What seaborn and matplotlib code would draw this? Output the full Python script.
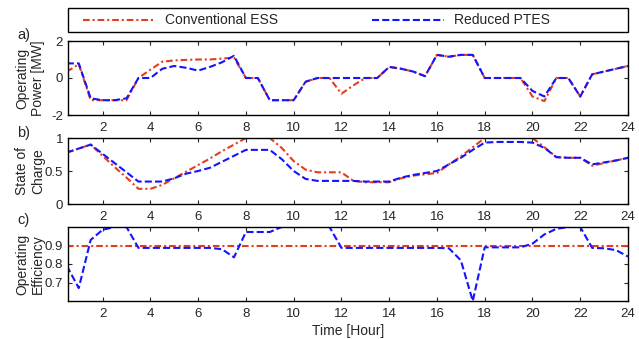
import matplotlib
matplotlib.use("Agg")
import matplotlib.pyplot as plt
from matplotlib.patches import Rectangle
import seaborn as sns
import pandas as pd

hours = [0.5, 1, 1.5, 2, 2.5, 3, 3.5, 4, 4.5, 5, 5.5, 6, 6.5, 7, 7.5, 8,
         8.5, 9, 9.5, 10, 10.5, 11, 11.5, 12, 12.5, 13, 13.5, 14, 14.5, 15, 15.5, 16,
         16.5, 17, 17.5, 18, 18.5, 19, 19.5, 20, 20.5, 21, 21.5, 22, 22.5, 23, 23.5, 24]

power_conv = [0.34, 0.75, -1.2, -1.2, -1.2, -1.2, 0.0, 0.45, 0.88, 0.95, 0.98, 1.0, 1.0, 1.05, 1.1, 0.0,
              0.0, -1.2, -1.2, -1.2, -0.2, 0.0, 0.0, -0.85, -0.4, 0.0, 0.0, 0.6, 0.5, 0.35, 0.1, 1.25,
              1.15, 1.25, 1.25, 0.0, 0.0, 0.0, 0.0, -1.0, -1.25, 0.0, 0.0, -1.0, 0.2, 0.35, 0.5, 0.65]
power_ptes = [0.79, 0.79, -1.1, -1.2, -1.2, -1.1, 0.0, 0.0, 0.5, 0.65, 0.55, 0.4, 0.6, 0.85, 1.2, 0.0,
              0.0, -1.2, -1.2, -1.2, -0.2, 0.0, 0.0, 0.0, 0.0, 0.0, 0.0, 0.6, 0.5, 0.35, 0.1, 1.25,
              1.15, 1.25, 1.25, 0.0, 0.0, 0.0, 0.0, -0.7, -1.0, 0.0, 0.0, -1.0, 0.2, 0.35, 0.5, 0.65]

soc_conv = [0.78, 0.84, 0.9, 0.73, 0.56, 0.4, 0.23, 0.23, 0.29, 0.39, 0.49, 0.59, 0.69, 0.8, 0.9, 1.0,
            1.0, 1.0, 0.85, 0.65, 0.52, 0.48, 0.48, 0.48, 0.35, 0.33, 0.33, 0.33, 0.39, 0.43, 0.45, 0.47,
            0.6, 0.72, 0.86, 1.0, 1.0, 1.0, 1.0, 1.0, 0.86, 0.71, 0.7, 0.7, 0.58, 0.62, 0.66, 0.7]
soc_ptes = [0.78, 0.84, 0.9, 0.76, 0.62, 0.48, 0.34, 0.34, 0.34, 0.39, 0.46, 0.5, 0.55, 0.64, 0.73, 0.82,
            0.82, 0.82, 0.68, 0.5, 0.38, 0.35, 0.35, 0.35, 0.35, 0.34, 0.34, 0.34, 0.4, 0.44, 0.47, 0.5,
            0.6, 0.7, 0.82, 0.93, 0.94, 0.94, 0.94, 0.93, 0.85, 0.71, 0.7, 0.7, 0.6, 0.63, 0.66, 0.7]

eff_conv = [0.9] * 48
eff_ptes = [0.79, 0.67, 0.93, 0.985, 1.0, 1.0, 0.887, 0.887, 0.887, 0.887, 0.887, 0.887, 0.887, 0.88, 0.836, 0.973,
            0.973, 0.973, 1.0, 1.0, 1.0, 1.0, 1.0, 0.887, 0.887, 0.887, 0.887, 0.887, 0.887, 0.887, 0.887, 0.887,
            0.885, 0.82, 0.60, 0.89, 0.89, 0.89, 0.89, 0.91, 0.96, 0.99, 1.0, 1.0, 0.887, 0.885, 0.875, 0.84]

xticks = [2, 4, 6, 8, 10, 12, 14, 16, 18, 20, 22, 24]
labels = ["Conventional ESS", "Reduced PTES"]
ylabels = ["Operating\nPower [MW]", "State of\nCharge", "Operating\nEfficiency"]
panel_tags = ["a)", "b)", "c)"]

sns.set_style("ticks")
plt.rcParams['font.family'] = ['Liberation Sans', 'DejaVu Sans']
plt.rcParams['xtick.direction'] = 'in'
plt.rcParams['ytick.direction'] = 'in'

RED = '#E63C1E'
BLUE = '#1414FF'
RED_LS = (0, (3.2, 1.4, 1.0, 1.4))
BLUE_LS = (0, (3.4, 1.5))

fig = plt.figure(figsize=(6.39, 3.39), dpi=100)
W, H = 639, 339
L, R = 68, 628
boxes = [(41, 115), (138, 204), (227, 301)]
tag_y = [34.5, 132.5, 220]
axes = []
for (t, b) in boxes:
    ax = fig.add_axes([L / W, 1 - b / H, (R - L) / W, (b - t) / H])
    axes.append(ax)

series = [(power_conv, power_ptes), (soc_conv, soc_ptes), (eff_conv, eff_ptes)]
ylims = [(-2, 2), (0, 1), (0.6, 1.0)]
yticks = [[-2, 0, 2], [0, 0.5, 1], [0.7, 0.8, 0.9]]
yticklabels = [["-2", "0", "2"], ["0", "0.5", "1"], ["0.7", "0.8", "0.9"]]

handles = None
for i, ax in enumerate(axes):
    conv, ptes = series[i]
    df = pd.DataFrame({"hour": hours, "conv": conv, "ptes": ptes})
    sns.lineplot(data=df, x="hour", y="conv", ax=ax, color=RED, lw=1.5,
                 linestyle=RED_LS, label=labels[0], legend=False)
    sns.lineplot(data=df, x="hour", y="ptes", ax=ax, color=BLUE, lw=1.5,
                 linestyle=BLUE_LS, label=labels[1], legend=False)
    ax.set_xlim(0.55, 24)
    ax.set_ylim(*ylims[i])
    ax.set_xticks(xticks)
    ax.set_xticklabels([str(v) for v in xticks], fontsize=9.5)
    ax.set_yticks(yticks[i])
    ax.set_yticklabels(yticklabels[i], fontsize=9.5)
    ax.tick_params(axis='x', which='both', top=True, bottom=True, length=3,
                   width=0.8, pad=5, direction='in')
    ax.tick_params(axis='y', which='both', left=True, right=True, length=3,
                   width=0.8, pad=3.5, direction='in')
    for s in ax.spines.values():
        s.set_linewidth(1.0)
        s.set_color('black')
    ax.set_xlabel("")
    ax.set_ylabel(ylabels[i], fontsize=10, linespacing=1.15)
    ax.yaxis.set_label_coords((45 - L) / (R - L), 0.5)
    fig.text(17 / W, 1 - tag_y[i] / H, panel_tags[i], fontsize=10.5,
             ha='left', va='center')
    if handles is None:
        handles = ax.get_lines()[:2]

axes[2].set_xlabel("Time [Hour]", fontsize=10)
axes[2].xaxis.set_label_coords(0.5, (301 - 331) / 74, transform=axes[2].transAxes)
axes[2].xaxis.label.set_va('center')

# legend frame
fig.patches.append(Rectangle((L / W, 1 - 32 / H), (R - L) / W, 23.5 / H,
                             transform=fig.transFigure, fill=False,
                             edgecolor='black', linewidth=1.0, zorder=5))
fs = 10
em = fs * 100 / 72
leg = fig.legend(handles, labels, loc='center left',
                 bbox_to_anchor=(83 / W, 1 - 20.5 / H),
                 ncol=2, frameon=False, fontsize=fs,
                 handlelength=72 / em, handletextpad=10 / em,
                 columnspacing=94 / em, borderaxespad=0, borderpad=0)

fig.savefig("out.png", dpi=100)
